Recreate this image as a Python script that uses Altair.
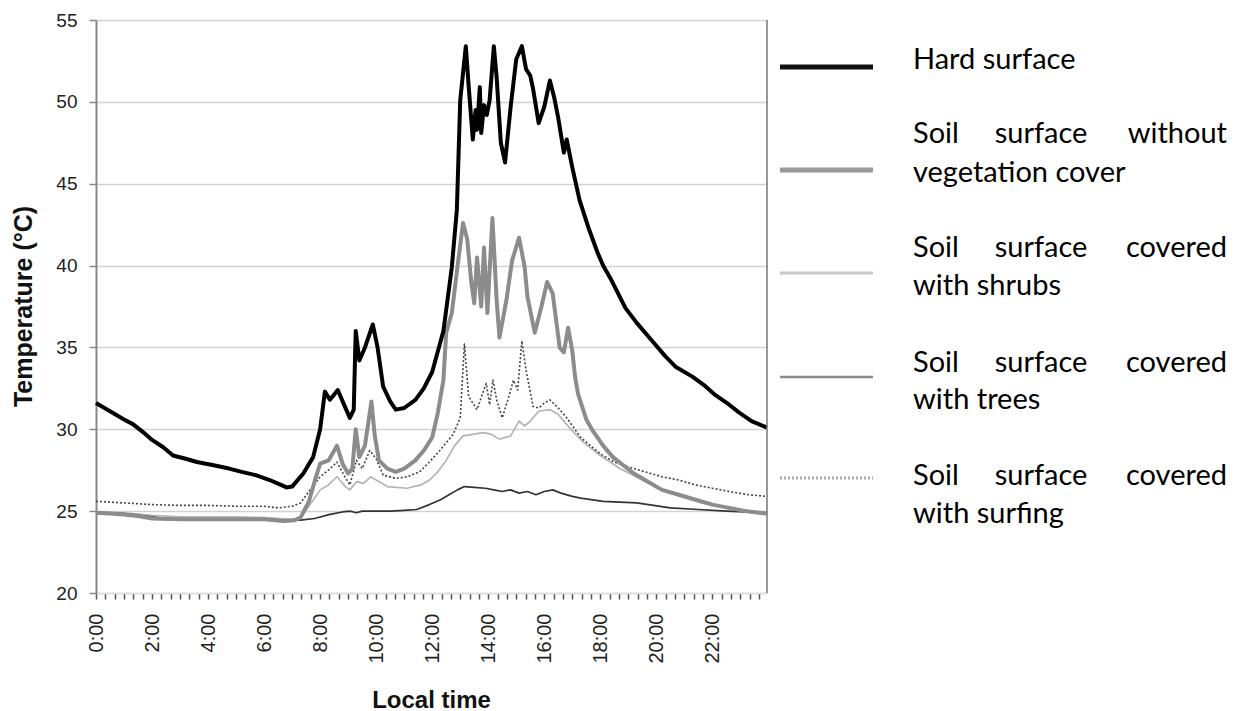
import altair as alt
import pandas as pd

# ---------------- data (hours, °C) ----------------
hard_t = [0, 0.5, 1.0, 1.33, 1.7, 2.0, 2.4, 2.75, 3.2, 3.6, 4.2, 4.75, 5.2, 5.7, 6.2, 6.6, 6.8, 7.0,
          7.4, 7.75, 8.0, 8.17, 8.35, 8.63, 8.88, 9.06, 9.2, 9.27, 9.4, 9.6, 9.88, 10.05, 10.25, 10.5,
          10.7, 11.0, 11.4, 11.7, 12.0, 12.4, 12.7, 12.88, 13.0, 13.2, 13.3, 13.45, 13.55, 13.6, 13.7,
          13.75, 13.85, 13.95, 14.05, 14.2, 14.3, 14.45, 14.6, 14.8, 15.0, 15.2, 15.35, 15.5, 15.6,
          15.8, 16.0, 16.2, 16.35, 16.5, 16.7, 16.8, 17.0, 17.26, 17.6, 17.9, 18.1, 18.4, 18.9, 19.3,
          19.9, 20.3, 20.7, 21.3, 21.7, 22.1, 22.6, 22.97, 23.4, 23.95]
hard_v = [31.6, 31.1, 30.6, 30.3, 29.8, 29.35, 28.9, 28.4, 28.2, 28.0, 27.8, 27.6, 27.4, 27.2, 26.9,
          26.6, 26.45, 26.5, 27.3, 28.3, 30.0, 32.3, 31.8, 32.4, 31.4, 30.7, 31.2, 36.0, 34.2, 35.0,
          36.4, 35.0, 32.6, 31.7, 31.2, 31.3, 31.8, 32.5, 33.5, 36.0, 39.9, 43.4, 50.1, 53.4, 51.0,
          47.7, 49.5, 48.3, 50.9, 48.1, 49.8, 49.2, 50.1, 53.4, 51.5, 47.5, 46.3, 49.7, 52.6, 53.4,
          52.0, 51.6, 50.8, 48.7, 49.7, 51.3, 50.3, 49.0, 46.9, 47.7, 46.0, 44.0, 42.2, 40.8, 40.0,
          39.1, 37.4, 36.5, 35.3, 34.5, 33.8, 33.2, 32.7, 32.1, 31.5, 31.0, 30.5, 30.1]

bare_t = [0, 0.5, 1.0, 1.5, 2.0, 3.0, 4.0, 5.0, 6.0, 6.7, 7.1, 7.3, 7.6, 7.8, 8.0, 8.3, 8.6, 8.8, 9.0,
          9.15, 9.27, 9.4, 9.6, 9.83, 9.95, 10.1, 10.4, 10.7, 11.0, 11.4, 11.7, 12.0, 12.2, 12.4, 12.5,
          12.7, 12.9, 13.1, 13.25, 13.4, 13.5, 13.6, 13.75, 13.85, 13.97, 14.15, 14.3, 14.4, 14.65,
          14.85, 15.1, 15.3, 15.4, 15.66, 15.9, 16.1, 16.3, 16.55, 16.7, 16.85, 17.0, 17.1, 17.2,
          17.5, 17.7, 18.1, 18.45, 19.2, 19.7, 20.2, 20.8, 21.4, 22.0, 22.6, 23.2, 23.95]
bare_v = [24.9, 24.85, 24.8, 24.7, 24.55, 24.5, 24.5, 24.5, 24.5, 24.4, 24.45, 24.6, 25.6, 26.8, 27.9,
          28.1, 29.0, 27.9, 27.3, 27.6, 30.0, 28.3, 29.0, 31.7, 29.6, 28.1, 27.6, 27.4, 27.6, 28.1,
          28.7, 29.5, 31.0, 33.0, 35.9, 37.1, 39.9, 42.6, 41.6, 38.9, 37.7, 40.5, 37.5, 41.1, 37.1,
          42.9, 37.9, 35.6, 37.9, 40.3, 41.7, 39.9, 38.1, 35.9, 37.5, 39.0, 38.3, 35.0, 34.7, 36.2,
          34.8, 33.2, 32.2, 30.6, 30.0, 29.0, 28.3, 27.3, 26.8, 26.3, 26.0, 25.7, 25.4, 25.2, 25.0,
          24.85]

shrub_t = [0, 1.0, 2.0, 3.0, 4.0, 5.0, 6.0, 7.0, 7.3, 7.6, 8.0, 8.3, 8.6, 8.9, 9.06, 9.3, 9.55, 9.8,
           10.0, 10.4, 11.1, 11.6, 11.9, 12.2, 12.5, 12.8, 13.1, 13.5, 13.8, 14.1, 14.4, 14.8, 15.1,
           15.3, 15.5, 15.8, 16.2, 16.5, 16.7, 17.0, 17.4, 18.0, 18.7, 19.5, 20.5, 21.6, 22.7, 23.95]
shrub_v = [24.95, 24.9, 24.75, 24.65, 24.65, 24.65, 24.6, 24.5, 24.6, 25.3, 26.3, 26.6, 27.1, 26.5,
           26.3, 26.8, 26.7, 27.1, 26.9, 26.5, 26.4, 26.6, 26.9, 27.4, 28.1, 29.0, 29.6, 29.7, 29.8,
           29.7, 29.4, 29.6, 30.5, 30.2, 30.5, 31.1, 31.2, 30.9, 30.5, 29.9, 29.2, 28.4, 27.6, 26.9,
           26.1, 25.5, 25.15, 24.9]

tree_t = [0, 0.5, 1.0, 2.0, 2.5, 3.5, 4.5, 5.5, 6.5, 7.3, 7.8, 8.35, 8.8, 9.06, 9.3, 9.5, 10.0, 10.5,
          11.0, 11.45, 11.9, 12.3, 12.6, 12.9, 13.15, 13.5, 13.9, 14.2, 14.5, 14.8, 15.1, 15.4, 15.7,
          16.0, 16.3, 16.6, 17.0, 17.3, 18.1, 19.3, 20.5, 21.5, 22.5, 23.95]
tree_v = [24.85, 24.9, 24.85, 24.65, 24.55, 24.5, 24.5, 24.5, 24.45, 24.45, 24.55, 24.8, 24.95, 25.0,
          24.9, 25.0, 25.0, 25.0, 25.05, 25.1, 25.4, 25.7, 26.0, 26.3, 26.5, 26.45, 26.4, 26.3, 26.2,
          26.3, 26.1, 26.2, 26.0, 26.2, 26.3, 26.1, 25.9, 25.8, 25.6, 25.5, 25.2, 25.1, 25.0, 24.9]

surf_t = [0, 0.5, 1.0, 2.0, 3.0, 4.0, 5.0, 6.0, 6.5, 7.0, 7.3, 7.6, 8.0, 8.3, 8.6, 8.85, 9.06, 9.3,
          9.5, 9.77, 10.0, 10.25, 10.7, 11.1, 11.55, 11.9, 12.27, 12.75, 13.0, 13.15, 13.3, 13.6,
          13.8, 13.93, 14.05, 14.17, 14.3, 14.5, 14.7, 14.9, 15.05, 15.2, 15.35, 15.6, 15.8, 16.0,
          16.2, 16.5, 16.8, 17.3, 18.0, 18.5, 19.0, 19.6, 20.2, 20.8, 21.4, 22.0, 22.6, 23.3, 23.95]
surf_v = [25.6, 25.55, 25.5, 25.4, 25.35, 25.35, 25.3, 25.3, 25.2, 25.3, 25.5, 26.2, 27.1, 27.5, 28.0,
          27.2, 26.6, 28.1, 27.6, 28.7, 28.2, 27.2, 27.0, 27.1, 27.4, 28.0, 28.7, 29.7, 30.7, 35.2,
          32.0, 31.2, 32.2, 32.8, 31.5, 33.0, 31.8, 30.7, 31.8, 33.0, 32.4, 35.4, 33.6, 31.4, 31.3,
          31.6, 31.8, 31.3, 30.7, 29.5, 28.5, 28.0, 27.7, 27.4, 27.1, 26.9, 26.6, 26.4, 26.2, 26.0,
          25.9]

y_ticks = [20, 25, 30, 35, 40, 45, 50, 55]
x_ticks = [i / 3 for i in range(72)]

W, H = 671, 573

x_scale = alt.Scale(domain=[0, 23.95], nice=False, zero=False)
y_scale = alt.Scale(domain=[20, 55], nice=False, zero=False)

x_axis = alt.Axis(
    values=x_ticks,
    labelExpr="datum.value % 2 == 0 ? datum.value + ':00' : ''",
    labelAngle=270, labelAlign="right", labelBaseline="middle",
    labelPadding=14, labelFont="Liberation Sans", labelFontSize=20, labelColor="#222",
    tickSize=6, tickColor="#555", tickWidth=1.5,
    domainColor="#dddddd", domainWidth=1.5,
    grid=False, labelOverlap=False,
    title="Local time", titleFont="Liberation Sans", titleFontSize=24, titleFontWeight="bold",
    titleColor="#111", titleBaseline="alphabetic", titleX=335, titleY=114,
)
y_axis = alt.Axis(
    values=y_ticks, format="d",
    labelFont="Liberation Sans", labelFontSize=19, labelColor="#222", labelPadding=12,
    tickSize=7, tickColor="#888", tickWidth=1.5,
    domainColor="#888", domainWidth=2,
    grid=True, gridColor="#d2d2d2", gridWidth=1.5,
    title="Temperature (°C)", titleFont="Liberation Sans", titleFontSize=25,
    titleFontWeight="bold", titleColor="#111", titleAngle=270, titleBaseline="middle",
    titleX=-73, titleY=286,
)


def series(t, v, color, width, dash=None):
    df = pd.DataFrame({"t": t, "v": v})
    kw = dict(color=color, strokeWidth=width, interpolate="linear", strokeJoin="round")
    if dash:
        kw["strokeDash"] = dash
    return alt.Chart(df).mark_line(**kw).encode(
        x=alt.X("t:Q", scale=x_scale, axis=x_axis),
        y=alt.Y("v:Q", scale=y_scale, axis=y_axis),
    )


layers = [
    series(shrub_t, shrub_v, "#b4b4b4", 1.7),
    series(surf_t, surf_v, "#444444", 1.6, dash=[2, 2]),
    series(tree_t, tree_v, "#333333", 1.7),
    series(bare_t, bare_v, "#8c8c8c", 4),
    series(hard_t, hard_v, "#000000", 4),
]

one = pd.DataFrame({"a": [0]})

# right frame line
layers.append(alt.Chart(one).mark_rule(color="#777", strokeWidth=1.5).encode(
    x=alt.value(W), y=alt.value(0), y2=alt.value(H)))

# custom legend
sw_x0, sw_x1 = 684, 777
sw_y = [47, 150, 253, 357, 458]
sw_style = [dict(color="#111", strokeWidth=5),
            dict(color="#999", strokeWidth=5),
            dict(color="#c8c8c8", strokeWidth=3),
            dict(color="#8a8a8a", strokeWidth=2.5),
            dict(color="#aaaaaa", strokeWidth=3, strokeDash=[2, 2])]
for y, st in zip(sw_y, sw_style):
    layers.append(alt.Chart(one).mark_rule(**st).encode(
        x=alt.value(sw_x0), x2=alt.value(sw_x1), y=alt.value(y)))

txt = dict(font="Lato", fontSize=29, color="#000", baseline="alphabetic")
tx_l, tx_c, tx_r = 817, 945, 1131


def label(text, x, y, align):
    return alt.Chart(one).mark_text(align=align, **txt).encode(
        x=alt.value(x), y=alt.value(y), text=alt.value(text))


layers.append(label("Hard surface", tx_l, 49, "left"))
rows = [(123, 162, "without", "vegetation cover"),
        (237, 275, "covered", "with shrubs"),
        (352, 389, "covered", "with trees"),
        (465, 503, "covered", "with surfing")]
for y1, y2, last, line2 in rows:
    layers.append(label("Soil", tx_l, y1, "left"))
    layers.append(label("surface", tx_c, y1, "center"))
    layers.append(label(last, tx_r, y1, "right"))
    layers.append(label(line2, tx_l, y2, "left"))

chart = alt.layer(*layers).properties(
    width=W, height=H,
    autosize=alt.AutoSizeParams(type="none"),
    padding={"left": 96, "top": 20, "right": 474, "bottom": 118},
    background="white",
).configure_view(stroke=None)

chart.save("out.html", embed_options={"renderer": "svg", "actions": False})
